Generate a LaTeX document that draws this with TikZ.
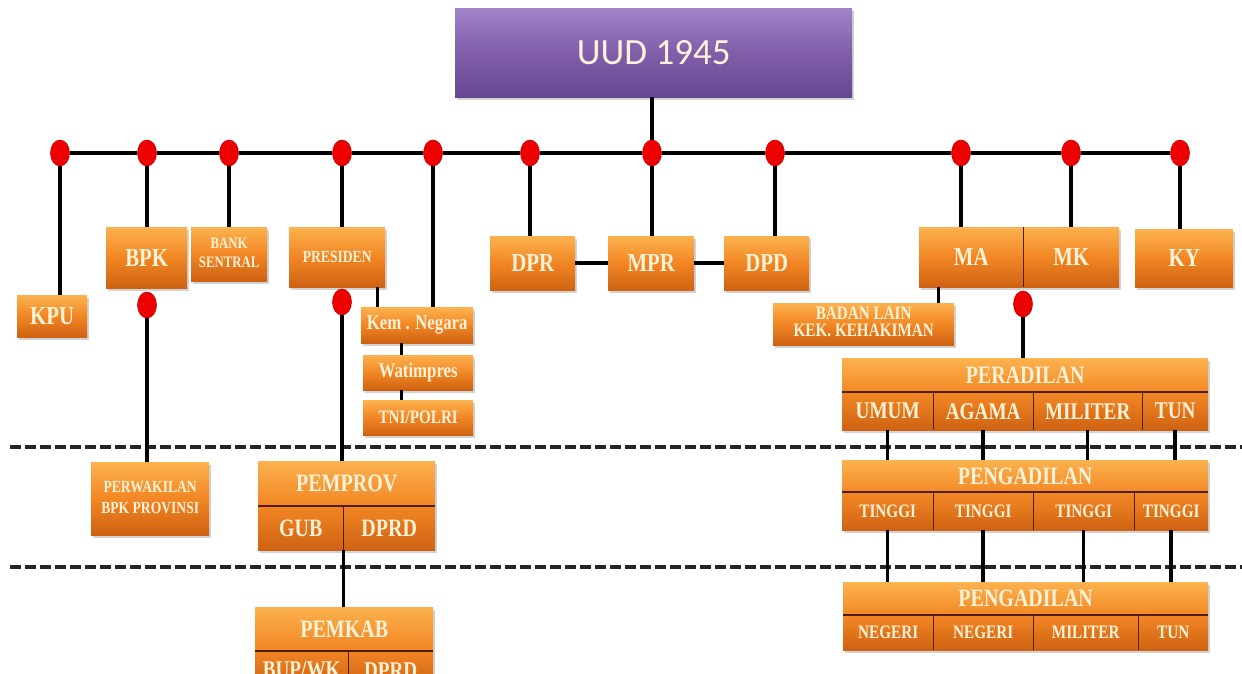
\documentclass[tikz,border=0pt]{standalone}
\usepackage{fontspec}
\setmainfont{Liberation Serif}
\newfontfamily\calib{Carlito}
\usetikzlibrary{shapes.geometric,shadows}
\definecolor{cream}{RGB}{255,242,215}
\definecolor{otop}{RGB}{251,178,78}
\definecolor{omid}{RGB}{242,134,36}
\definecolor{obot}{RGB}{206,98,18}
\definecolor{ptop}{RGB}{162,132,202}
\definecolor{pmid}{RGB}{128,94,170}
\definecolor{pbot}{RGB}{102,70,146}
\definecolor{dotred}{RGB}{236,0,0}
\definecolor{divc}{RGB}{80,30,8}
\newcommand\hsq[1]{\scalebox{0.8}[1]{#1}}
\newcommand\twoline[2]{\scalebox{0.8}[1]{\begin{tabular}{@{}c@{}}#1\\#2\end{tabular}}}
\newcommand\mybox[7]{\pgfmathsetmacro\bw{#4-#2}\pgfmathsetmacro\bh{#5-#3}\node[#6,anchor=north west,minimum width=\bw pt,minimum height=\bh pt] (#1) at (#2,#3) {#7};}
\tikzset{
  obox/.style={rectangle, inner sep=0pt, top color=otop, bottom color=obot, middle color=omid,
    drop shadow={shadow xshift=2pt, shadow yshift=-2.5pt, opacity=0.35}, text=cream},
  pbox/.style={rectangle, inner sep=0pt, top color=ptop, bottom color=pbot, middle color=pmid,
    drop shadow={shadow xshift=2pt, shadow yshift=-2.5pt, opacity=0.35}, text=cream},
  cell/.style={rectangle, inner sep=0pt, text=cream},
  fs/.style={font=\bfseries\fontsize{#1}{#1}\selectfont},
  reddot/.style={ellipse, fill=dotred, draw=red!80!black, line width=0.6pt, minimum width=19pt, minimum height=26pt, inner sep=0pt},
  ln/.style={line width=3.5pt, black},
  thinln/.style={line width=3pt, black},
  dv/.style={line width=1.5pt, divc},
  dsh/.style={line width=3.5pt, black!85, dash pattern=on 11pt off 4pt}
}
\begin{document}
\begin{tikzpicture}[x=1pt,y=-1pt]
\useasboundingbox (0,0) rectangle (1242,674);
\clip (0,0) rectangle (1242,674);
\fill[white] (0,0) rectangle (1242,674);

% dashed level lines
\draw[dsh] (10,447) -- (1242,447);
\draw[dsh] (10,567) -- (1242,567);

% top
\mybox{uud}{455}{8}{852}{97}{pbox, font=\calib\fontsize{37}{37}\selectfont}{UUD 1945}

% first row boxes
\mybox{kpu}{17}{295}{87}{337}{obox, fs=26}{\hsq{KPU}}
\mybox{bpk}{106}{227}{187}{288}{obox, fs=26}{\hsq{BPK}}
\mybox{bank}{191}{227}{267}{281}{obox, font=\bfseries\fontsize{16}{19}\selectfont}{\twoline{BANK}{SENTRAL}}
\mybox{pres}{289}{227}{385}{287}{obox, fs=17}{\hsq{PRESIDEN}}
\mybox{kem}{361}{307}{473}{343}{obox, fs=21}{\hsq{Kem . Negara}}
\mybox{wat}{363}{355}{473}{390}{obox, fs=21}{\hsq{Watimpres}}
\mybox{tni}{363}{400}{473}{435}{obox, fs=19}{\hsq{TNI/POLRI}}
\mybox{dpr}{490}{236}{575}{290}{obox, fs=26}{\hsq{DPR}}
\mybox{mpr}{608}{236}{694}{290}{obox, fs=26}{\hsq{MPR}}
\mybox{dpd}{724}{236}{809}{290}{obox, fs=26}{\hsq{DPD}}
\mybox{mamk}{919}{227}{1119}{287}{obox}{}
\mybox{ma}{919}{227}{1023}{287}{cell, fs=26}{\hsq{MA}}
\mybox{mk}{1023}{227}{1119}{287}{cell, fs=26}{\hsq{MK}}
\draw[dv] (ma.north east) -- (ma.south east);
\mybox{ky}{1135}{229}{1233}{287}{obox, fs=26}{\hsq{KY}}
\mybox{badan}{773}{303}{954}{345}{obox, font=\bfseries\fontsize{19}{17}\selectfont}{\twoline{BADAN LAIN}{KEK. KEHAKIMAN}}

% PERADILAN block
\mybox{per}{842}{358}{1208}{430}{obox}{}
\mybox{pert}{842}{358}{1208}{392}{cell, fs=25}{\hsq{PERADILAN}}
\mybox{umum}{842}{392}{933}{430}{cell, fs=24}{\hsq{UMUM}}
\mybox{agama}{933}{392}{1033}{430}{cell, fs=24}{\hsq{AGAMA}}
\mybox{mil}{1033}{392}{1142}{430}{cell, fs=24}{\hsq{MILITER}}
\mybox{tun}{1142}{392}{1208}{430}{cell, fs=24}{\hsq{TUN}}
\draw[dv] (umum.north west) -- (tun.north east);
\draw[dv] (umum.north east) -- (umum.south east);
\draw[dv] (agama.north east) -- (agama.south east);
\draw[dv] (mil.north east) -- (mil.south east);

% PENGADILAN TINGGI block
\mybox{ting}{842}{460}{1208}{530}{obox}{}
\mybox{tingt}{842}{460}{1208}{492}{cell, fs=25}{\hsq{PENGADILAN}}
\mybox{ta}{842}{492}{933}{530}{cell, fs=19}{\hsq{TINGGI}}
\mybox{tb}{933}{492}{1033}{530}{cell, fs=19}{\hsq{TINGGI}}
\mybox{tc}{1033}{492}{1134}{530}{cell, fs=19}{\hsq{TINGGI}}
\mybox{td}{1134}{492}{1208}{530}{cell, fs=19}{\hsq{TINGGI}}
\draw[dv] (ta.north west) -- (td.north east);
\draw[dv] (ta.north east) -- (ta.south east);
\draw[dv] (tb.north east) -- (tb.south east);
\draw[dv] (tc.north east) -- (tc.south east);

% PENGADILAN NEGERI block
\mybox{neg}{843}{582}{1208}{650}{obox}{}
\mybox{negt}{843}{582}{1208}{615}{cell, fs=25}{\hsq{PENGADILAN}}
\mybox{na}{843}{615}{933}{650}{cell, fs=19}{\hsq{NEGERI}}
\mybox{nb}{933}{615}{1033}{650}{cell, fs=19}{\hsq{NEGERI}}
\mybox{nc}{1033}{615}{1138}{650}{cell, fs=19}{\hsq{MILITER}}
\mybox{nd}{1138}{615}{1208}{650}{cell, fs=19}{\hsq{TUN}}
\draw[dv] (na.north west) -- (nd.north east);
\draw[dv] (na.north east) -- (na.south east);
\draw[dv] (nb.north east) -- (nb.south east);
\draw[dv] (nc.north east) -- (nc.south east);

% provincial level
\mybox{perw}{91}{462}{209}{535}{obox, font=\bfseries\fontsize{17}{21}\selectfont}{\twoline{PERWAKILAN}{BPK PROVINSI}}
\mybox{pemprov}{258}{461}{435}{550}{obox}{}
\mybox{pemprovt}{258}{461}{435}{506}{cell, fs=25}{\hsq{PEMPROV}}
\mybox{gub}{258}{506}{343}{550}{cell, fs=25}{\hsq{GUB}}
\mybox{dprd}{343}{506}{435}{550}{cell, fs=25}{\hsq{DPRD}}
\draw[dv] (gub.north west) -- (dprd.north east);
\draw[dv] (gub.north east) -- (gub.south east);

% regency level
\mybox{pemkab}{255}{607}{433}{689}{obox}{}
\mybox{pemkabt}{255}{607}{433}{651}{cell, fs=25}{\hsq{PEMKAB}}
\mybox{bup}{255}{651}{348}{689}{cell, fs=24}{\hsq{BUP/WK}}
\mybox{dprdk}{348}{651}{433}{689}{cell, fs=24}{\hsq{DPRD}}
\draw[dv] (bup.north west) -- (dprdk.north east);
\draw[dv] (bup.north east) -- (bup.south east);

% red dots on the bus
\node[reddot] (d1) at (60,153) {};
\node[reddot] (d2) at (147,153) {};
\node[reddot] (d3) at (229,153) {};
\node[reddot] (d4) at (342,153) {};
\node[reddot] (d5) at (433,153) {};
\node[reddot] (d6) at (530,153) {};
\node[reddot] (d7) at (652,153) {};
\node[reddot] (d8) at (775,153) {};
\node[reddot] (d9) at (961,153) {};
\node[reddot] (d10) at (1071,153) {};
\node[reddot] (d11) at (1180,153) {};
\node[reddot] (e1) at (147,305) {};
\node[reddot] (e2) at (342,302) {};
\node[reddot] (e3) at (1023,304) {};

% helper coordinates
\coordinate (pk) at (377,287);
\coordinate (kw) at (401,343);
\coordinate (wt) at (401,390);
\coordinate (ab) at (938,287);

% connectors
\draw[ln] (d1) -- (d2) -- (d3) -- (d4) -- (d5) -- (d6) -- (d7) -- (d8) -- (d9) -- (d10) -- (d11);
\draw[ln] (uud.south -| d7) -- (d7);
\draw[ln] (d1) -- (d1 |- kpu.north);
\draw[ln] (d2) -- (d2 |- bpk.north);
\draw[ln] (d3) -- (d3 |- bank.north);
\draw[ln] (d4) -- (d4 |- pres.north);
\draw[ln] (d5) -- (d5 |- kem.north);
\draw[ln] (d6) -- (d6 |- dpr.north);
\draw[ln] (d7) -- (d7 |- mpr.north);
\draw[ln] (d8) -- (d8 |- dpd.north);
\draw[ln] (d9) -- (d9 |- mamk.north);
\draw[ln] (d10) -- (d10 |- mamk.north);
\draw[ln] (d11) -- (d11 |- ky.north);
\draw[ln] (dpr) -- (mpr);
\draw[ln] (mpr) -- (dpd);
\draw[thinln] (pk) -- (pk |- kem.north);
\draw[thinln] (kw) -- (kw |- wat.north);
\draw[thinln] (wt) -- (wt |- tni.north);
\draw[thinln] (ab) -- (ab |- badan.north);
\draw[ln] (e1) -- (e1 |- perw.north);
\draw[ln] (e2) -- (e2 |- pemprov.north);
\draw[ln] (e3) -- (e3 |- per.north);
\draw[ln] (umum.south) -- (umum.south |- ting.north);
\draw[ln] (agama.south) -- (agama.south |- ting.north);
\draw[ln] (mil.south) -- (mil.south |- ting.north);
\draw[ln] (tun.south) -- (tun.south |- ting.north);
\draw[ln] (ta.south) -- (ta.south |- neg.north);
\draw[ln] (tb.south) -- (tb.south |- neg.north);
\draw[ln] (tc.south) -- (tc.south |- neg.north);
\draw[ln] (td.south) -- (td.south |- neg.north);
\draw[ln] (gub.south east) -- (gub.south east |- pemkab.north);
\end{tikzpicture}
\end{document}
